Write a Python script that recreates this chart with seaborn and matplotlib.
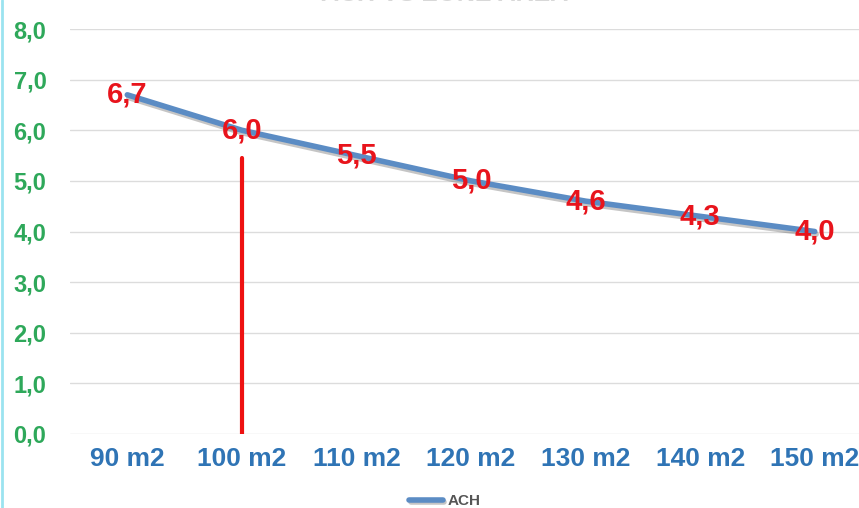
import pandas as pd
import matplotlib.pyplot as plt
import matplotlib.patheffects as pe
import seaborn as sns

areas = ["90 m2", "100 m2", "110 m2", "120 m2", "130 m2", "140 m2", "150 m2"]
ach = [6.7, 6.0, 5.5, 5.0, 4.6, 4.3, 4.0]
ach_labels = ["6,7", "6,0", "5,5", "5,0", "4,6", "4,3", "4,0"]
yticks = [0, 1, 2, 3, 4, 5, 6, 7, 8]
marker_area = "100 m2"
marker_top = 5.45

df = pd.DataFrame({"area": areas, "ACH": ach})

sns.set_theme(style="white")
plt.rcParams["font.family"] = ["Liberation Sans", "DejaVu Sans"]

fig = plt.figure(figsize=(8.59, 5.08), dpi=100)
ax = fig.add_axes([70 / 859, 74 / 508, 802 / 859, 405 / 508])

line_color = "#5b8cc4"
sns.lineplot(data=df, x="area", y="ACH", ax=ax, color=line_color, linewidth=4,
             sort=False, label="ACH",
             path_effects=[pe.SimpleLineShadow(offset=(1, -2), alpha=0.3, shadow_color="#404040"),
                           pe.Normal()])

xpos = list(range(len(areas)))
for x, y, t in zip(xpos, ach, ach_labels):
    ax.text(x, y, t, color="#e8141c", fontsize=21, fontweight="bold",
            ha="center", va="center", zorder=5)

mx = areas.index(marker_area)
ax.plot([mx, mx], [0, marker_top], color="#ee1111", linewidth=3, zorder=4)

ax.set_xlim(-0.5, len(areas) - 0.5)
ax.set_ylim(0, 8)
ax.set_yticks(yticks)
ax.set_yticklabels([f"{v:.1f}".replace(".", ",") for v in yticks],
                   color="#2ea85a", fontsize=17, fontweight="bold")
ax.set_xticks(xpos)
ax.set_xticklabels(areas, color="#2f74b5", fontsize=19, fontweight="bold")
ax.tick_params(axis="y", pad=17, length=0)
ax.tick_params(axis="x", pad=9, length=0)
ax.set_xlabel("")
ax.set_ylabel("")
ax.yaxis.grid(True, color="#dcdcdc", linewidth=1)
ax.set_axisbelow(True)
for s in ax.spines.values():
    s.set_visible(False)

ax.legend_.remove()
handles, labels = ax.get_legend_handles_labels()
leg = fig.legend(handles, labels, loc="center", bbox_to_anchor=(445 / 859, 7 / 508),
                 frameon=False, fontsize=11, handlelength=2.2, handletextpad=0.3)
for t in leg.get_texts():
    t.set_color("#555555")
    t.set_fontweight("bold")

fig.text(445 / 859, 1.012, "ACH VS ZONE AREA", ha="center", va="center",
         fontsize=18, fontweight="bold", color="#d8d8d8")

fig.add_artist(plt.Line2D([1.5 / 859, 1.5 / 859], [0, 1], color="#9be3f0", linewidth=2))

fig.savefig("out.png", dpi=100)
